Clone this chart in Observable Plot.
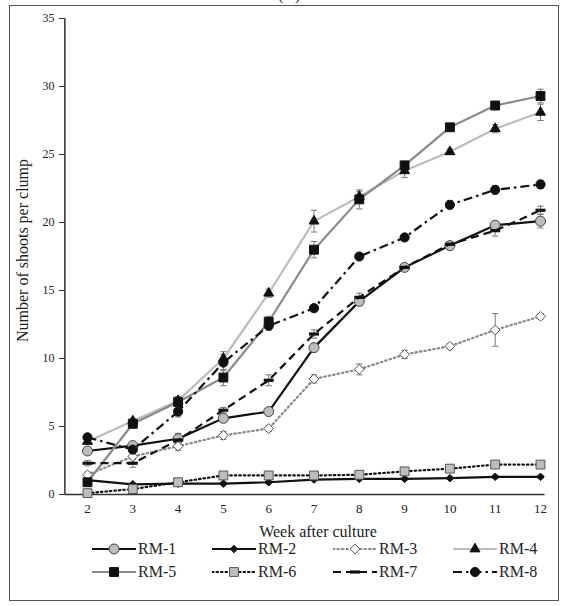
<!DOCTYPE html>
<html><head><meta charset="utf-8">
<script src="https://cdn.jsdelivr.net/npm/d3@7"></script>
<script src="https://cdn.jsdelivr.net/npm/@observablehq/plot@0.6"></script>
<style>
body{margin:0;background:#fff;font-family:"Liberation Serif","Times New Roman",serif;color:#222}
#wrap{position:relative;width:563px;height:606px;overflow:hidden;background:#fff}
#frame{position:absolute;left:9px;top:5px;width:550px;height:596px;border:1.5px solid #555;box-sizing:border-box;pointer-events:none}
#title{position:absolute;top:-14px;left:278px;font-size:16px}
#chart{position:absolute;left:0;top:0}
.item{position:absolute;display:flex;align-items:center;font-size:16px;height:20px;line-height:20px}
.item svg{display:block;margin-right:2px}
</style></head><body>
<div id="wrap"><div id="title">(A)</div><div id="chart"></div><div id="legend"></div><div id="frame"></div></div>
<script>
const weeks = [2,3,4,5,6,7,8,9,10,11,12];
const seriesNames = ["RM-1","RM-2","RM-3","RM-4","RM-5","RM-6","RM-7","RM-8"];
const rm1 = [3.2, 3.6, 4.1, 5.6, 6.1, 10.8, 14.2, 16.7, 18.3, 19.8, 20.1];
const rm2 = [1.05, 0.75, 0.8, 0.8, 0.9, 1.1, 1.15, 1.15, 1.2, 1.3, 1.3];
const rm3 = [1.45, 2.8, 3.55, 4.35, 4.85, 8.5, 9.2, 10.3, 10.9, 12.1, 13.1];
const rm4 = [3.9, 5.4, 6.9, 10.0, 14.8, 20.1, 21.9, 23.8, 25.2, 26.9, 28.1];
const rm5 = [0.9, 5.2, 6.8, 8.6, 12.7, 18.0, 21.7, 24.2, 27.0, 28.6, 29.3];
const rm6 = [0.1, 0.4, 0.9, 1.4, 1.4, 1.4, 1.45, 1.7, 1.9, 2.2, 2.2];
const rm7 = [2.3, 2.3, 4.0, 6.2, 8.4, 11.8, 14.5, 16.7, 18.4, 19.4, 20.9];
const rm8 = [4.2, 3.3, 6.1, 9.7, 12.4, 13.7, 17.5, 18.9, 21.3, 22.4, 22.8];
// standard errors
const se1 = [0.2,0.2,0.4,0.2,0.2,0.3,0.3,0.2,0.3,0.2,0.5];
const se2 = [0.1,0.1,0.1,0.1,0.1,0.1,0.1,0.1,0.1,0.1,0.1];
const se3 = [0.2,0.2,0.3,0.3,0.2,0.3,0.4,0.3,0.2,1.2,0.2];
const se4 = [0.2,0.2,0.3,0.5,0.3,0.8,0.4,0.5,0.2,0.3,0.6];
const se5 = [0.2,0.3,0.3,0.6,0.4,0.6,0.7,0.3,0.2,0.3,0.5];
const se6 = [0.05,0.1,0.1,0.1,0.1,0.1,0.1,0.1,0.1,0.1,0.1];
const se7 = [0.2,0.3,0.3,0.2,0.4,0.3,0.3,0.2,0.2,0.4,0.3];
const se8 = [0.2,0.2,0.4,0.6,0.3,0.2,0.2,0.2,0.3,0.3,0.3];
const yTicks = [0,5,10,15,20,25,30,35];

const values = [rm1,rm2,rm3,rm4,rm5,rm6,rm7,rm8];
const errors = [se1,se2,se3,se4,se5,se6,se7,se8];

const dash = {draw(ctx, size){ const w = Math.sqrt(size/Math.PI); ctx.moveTo(-w,-1.6); ctx.lineTo(w,-1.6); ctx.lineTo(w,1.6); ctx.lineTo(-w,1.6); ctx.closePath(); }};

const styles = [
  {line:"#111", dash:null, sym:d3.symbolCircle, r:5, fill:"#bdbdbd", mstroke:"#444"},
  {line:"#111", dash:null, sym:d3.symbolDiamond2, r:3.4, fill:"#111", mstroke:"#111"},
  {line:"#8a8a8a", dash:"1.5,3", sym:d3.symbolDiamond2, r:4.4, fill:"#fff", mstroke:"#555"},
  {line:"#bcbcbc", dash:null, sym:d3.symbolTriangle, r:3.7, fill:"#111", mstroke:"#111"},
  {line:"#8a8a8a", dash:null, sym:d3.symbolSquare, r:5, fill:"#111", mstroke:"#111"},
  {line:"#111", dash:"1.5,3", sym:d3.symbolSquare, r:5, fill:"#bdbdbd", mstroke:"#555"},
  {line:"#111", dash:"8,5", sym:dash, r:5, fill:"#111", mstroke:"none"},
  {line:"#111", dash:"9,4,2.5,4", sym:d3.symbolCircle, r:4.6, fill:"#111", mstroke:"#111"}
];

const data = seriesNames.map((name,i) => weeks.map((w,j) => ({series:name, week:w, value:values[i][j], se:errors[i][j]})));

const marks = [];
data.forEach((d,i) => {
  marks.push(Plot.ruleX(d, {x:"week", y1:v=>v.value - v.se, y2:v=>v.value + v.se, stroke:"#777", strokeWidth:1}));
  marks.push(Plot.link(d, {x1:v=>v.week-0.07, x2:v=>v.week+0.07, y1:v=>v.value+v.se, y2:v=>v.value+v.se, stroke:"#777", strokeWidth:1}));
  marks.push(Plot.link(d, {x1:v=>v.week-0.07, x2:v=>v.week+0.07, y1:v=>v.value-v.se, y2:v=>v.value-v.se, stroke:"#777", strokeWidth:1}));
});
data.forEach((d,i) => {
  const s = styles[i];
  marks.push(Plot.line(d, {x:"week", y:"value", stroke:s.line, strokeWidth:2.2, strokeDasharray:s.dash, strokeLinecap: s.dash && s.dash.startsWith("1.5") ? "round" : "butt"}));
  marks.push(Plot.dot(d, {x:"week", y:"value", symbol:()=>s.sym, r:s.r, fill:s.fill, stroke:s.mstroke, strokeWidth:1}));
});

const chart = Plot.plot({
  width:563, height:606,
  marginLeft:64, marginTop:18, marginBottom:112, marginRight:0,
  style:{fontFamily:"Liberation Serif, Times New Roman, serif", color:"#222", background:"transparent"},
  x:{domain:[1.5,12.5], range:[64.35, 64.35+11*45.3]},
  y:{domain:[0,35]},
  symbol:{type:"identity"},
  marks:[
    Plot.ruleX([1.5], {y1:0, y2:35, stroke:"#333", strokeWidth:1.5}),
    Plot.ruleY([0], {x1:1.5, x2:12.1, stroke:"#333", strokeWidth:1.5}),
    Plot.axisY({ticks:yTicks, tickSize:5, tickPadding:5, fontSize:12, label:null, stroke:"#333"}),
    Plot.axisX({ticks:weeks, tickSize:0, tickPadding:9, fontSize:13, label:null, tickFormat:d=>String(d)}),
    ...marks,
    Plot.text(["Week after culture"], {frameAnchor:"bottom", lineAnchor:"middle", dy:37, dx:4, fontSize:16}),
    Plot.text(["Number of shoots per clump"], {frameAnchor:"left", textAnchor:"middle", lineAnchor:"middle", rotate:-90, dx:-42, dy:-6, fontSize:16})
  ]
});
document.getElementById("chart").appendChild(chart);

// legend
const legend = document.getElementById("legend");
const colX = [92, 212, 333, 453];
const rowY = [549, 572];
seriesNames.forEach((name,i) => {
  const s = styles[i];
  const item = document.createElement("div");
  item.className = "item";
  item.style.left = colX[i%4] + "px";
  item.style.top = (rowY[Math.floor(i/4)] - 10) + "px";
  const svg = d3.create("svg").attr("width",44).attr("height",20);
  svg.append("line").attr("x1",0).attr("x2",44).attr("y1",10).attr("y2",10)
    .attr("stroke",s.line).attr("stroke-width",2.2).attr("stroke-dasharray",s.dash)
    .attr("stroke-linecap", s.dash && s.dash.startsWith("1.5") ? "round" : "butt");
  svg.append("path").attr("transform","translate(22,10)")
    .attr("d", d3.symbol().type(s.sym).size(s.r*s.r*Math.PI)())
    .attr("fill",s.fill).attr("stroke",s.mstroke).attr("stroke-width",1);
  item.appendChild(svg.node());
  const t = document.createElement("span");
  t.textContent = name;
  item.appendChild(t);
  legend.appendChild(item);
});
</script>
</body></html>
